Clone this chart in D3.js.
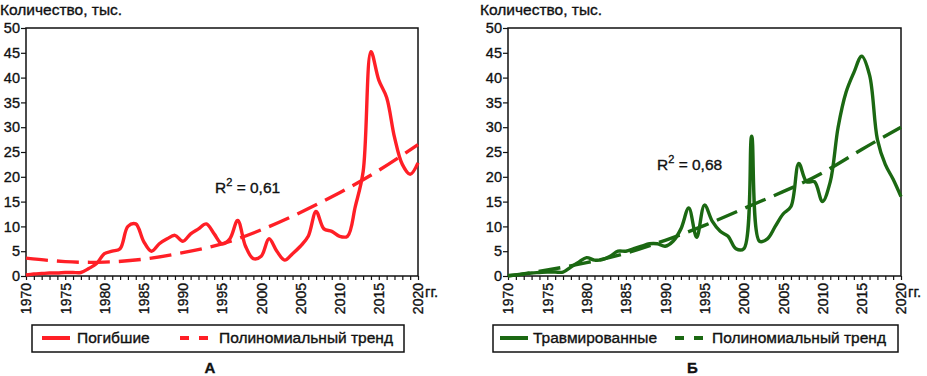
<!DOCTYPE html>
<html>
<head>
<meta charset="utf-8">
<script src="https://cdn.jsdelivr.net/npm/d3@7"></script>
<style>
  body { margin: 0; background: #fff; }
  svg { display: block; font-family: "Liberation Sans", Arial, sans-serif; }
  svg text { stroke: #111; stroke-width: 0.35px; }
</style>
</head>
<body>
<div id="chart"></div>
<script>
// years 1970..2020
const years = d3.range(1970, 2021);

// Погибшие, тыс.
const killed = [
  0.2, 0.4, 0.5, 0.6, 0.6, 0.7, 0.7, 0.7, 1.5, 2.5,
  4.5, 5.0, 5.5, 10.0, 10.5, 7.0, 5.0, 6.5, 7.5, 8.2,
  7.0, 8.5, 9.5, 10.5, 8.5, 6.5, 7.5, 11.2, 6.0, 3.5,
  4.0, 7.5, 5.0, 3.2, 4.5, 6.0, 8.0, 13.0, 9.5, 9.0,
  8.0, 8.0, 14.0, 21.0, 45.2, 39.5, 36.0, 28.0, 22.5, 20.5,
  22.8
];

// Травмированные, тыс.
const injured = [
  0.1, 0.2, 0.4, 0.6, 0.7, 0.8, 0.8, 0.8, 1.8, 2.8,
  3.7, 3.2, 3.3, 4.0, 5.0, 5.0, 5.5, 6.0, 6.5, 6.5,
  6.0, 7.0, 9.5, 13.7, 7.8, 14.3, 11.0, 9.0, 8.0, 5.5,
  5.5, 28.2, 7.0, 7.5, 10.0, 12.5, 14.0, 22.7, 19.0, 19.0,
  15.0, 19.0, 30.0, 37.0, 41.0, 44.3, 40.5, 27.5, 22.5, 19.5,
  16.0
];

// polynomial trend lines, every 5 years
const trendYears = [1970, 1975, 1980, 1985, 1990, 1995, 2000, 2005, 2010, 2015, 2020];
const killedTrend = [3.6, 2.9, 2.8, 3.4, 4.7, 6.5, 9.3, 12.8, 16.8, 21.3, 26.5];
const injuredTrend = [0.0, 1.2, 2.7, 4.6, 7.2, 10.2, 13.6, 17.0, 20.8, 25.5, 30.0];

const yTicks = [0, 5, 10, 15, 20, 25, 30, 35, 40, 45, 50];
const xLabelYears = [1970, 1975, 1980, 1985, 1990, 1995, 2000, 2005, 2010, 2015, 2020];

const yTitle = "Количество, тыс.";
const trendName = "Полиномиальный тренд";

const width = 927, height = 376;

const svg = d3.select("#chart").append("svg")
  .attr("width", width)
  .attr("height", height)
  .attr("viewBox", [0, 0, width, height]);

const panels = [
  {
    x0: 0, left: 26, right: 418,
    values: killed, trend: killedTrend,
    color: "#ff1f26", name: "Погибшие", letter: "А",
    r2: "0,61", r2x: 215, r2y: 193,
    legend: { x: 32, w: 372, sample: 42, text: 77, dash: 180, dtext: 219 }
  },
  {
    x0: 480, left: 508, right: 901,
    values: injured, trend: injuredTrend,
    color: "#1b6812", name: "Травмированные", letter: "Б",
    r2: "0,68", r2x: 657, r2y: 170,
    legend: { x: 493, w: 405, sample: 500, text: 533, dash: 675, dtext: 712 }
  }
];

const plotTop = 28, plotBottom = 276;

panels.forEach(p => {
  const g = svg.append("g");

  const x = d3.scaleLinear().domain([1970, 2020]).range([p.left, p.right]);
  const y = d3.scaleLinear().domain([0, 50]).range([plotBottom, plotTop]);

  // axis title
  g.append("text")
    .attr("x", p.x0)
    .attr("y", 15)
    .attr("font-size", 15.5)
    .attr("fill", "#111")
    .text(yTitle);

  // y axis
  g.append("g")
    .attr("transform", `translate(${p.left},0)`)
    .call(d3.axisLeft(y).tickValues(yTicks).tickSize(5).tickPadding(1))
    .call(a => a.select(".domain").remove())
    .call(a => a.selectAll("line").attr("stroke", "#111").attr("stroke-width", 1.2))
    .call(a => a.selectAll("text").attr("font-size", 14.5).attr("fill", "#111")
      .attr("font-family", "Liberation Sans, Arial, sans-serif"));

  // x axis, a tick for every year, labels every 5
  g.append("g")
    .attr("transform", `translate(0,${plotBottom})`)
    .call(d3.axisBottom(x).tickValues(years).tickSize(4)
      .tickFormat(d => xLabelYears.includes(d) ? d : ""))
    .call(a => a.select(".domain").remove())
    .call(a => a.selectAll("line").attr("stroke", "#111").attr("stroke-width", 1.2))
    .call(a => a.selectAll("text")
      .attr("font-size", 14).attr("fill", "#111")
      .attr("font-family", "Liberation Sans, Arial, sans-serif")
      .attr("transform", "rotate(-90)")
      .attr("text-anchor", "end")
      .attr("x", -7).attr("y", 0).attr("dy", "0.35em"));

  g.append("text")
    .attr("x", p.right + 7)
    .attr("y", 297)
    .attr("font-size", 15)
    .attr("fill", "#111")
    .text("гг.");

  // frame
  g.append("rect")
    .attr("x", p.left).attr("y", plotTop)
    .attr("width", p.right - p.left).attr("height", plotBottom - plotTop)
    .attr("fill", "none").attr("stroke", "#111").attr("stroke-width", 1.5);

  // trend line
  const trendLine = d3.line()
    .x((d, i) => x(trendYears[i]))
    .y(d => y(d))
    .curve(d3.curveNatural);
  g.append("path")
    .datum(p.trend)
    .attr("d", trendLine)
    .attr("fill", "none")
    .attr("stroke", p.color)
    .attr("stroke-width", 3.4)
    .attr("stroke-dasharray", "22,9");

  // data line
  const line = d3.line()
    .x((d, i) => x(years[i]))
    .y(d => y(d))
    .curve(d3.curveCatmullRom.alpha(0.5));
  g.append("path")
    .datum(p.values)
    .attr("d", line)
    .attr("fill", "none")
    .attr("stroke", p.color)
    .attr("stroke-width", 3.4)
    .attr("stroke-linejoin", "round");

  // R² label
  const r = g.append("text")
    .attr("x", p.r2x).attr("y", p.r2y)
    .attr("font-size", 15.5).attr("fill", "#111");
  r.append("tspan").text("R");
  r.append("tspan").attr("dy", -7).attr("font-size", 11).text("2");
  r.append("tspan").attr("dy", 7).text(" = " + p.r2);

  // legend
  const L = p.legend, ly = 338;
  g.append("rect")
    .attr("x", L.x).attr("y", 325)
    .attr("width", L.w).attr("height", 27)
    .attr("fill", "#fff").attr("stroke", "#111").attr("stroke-width", 1.5);
  g.append("line")
    .attr("x1", L.sample).attr("x2", L.sample + 28)
    .attr("y1", ly).attr("y2", ly)
    .attr("stroke", p.color).attr("stroke-width", 4);
  g.append("text")
    .attr("x", L.text).attr("y", ly + 5)
    .attr("font-size", 15.5).attr("fill", "#111")
    .text(p.name);
  g.append("line")
    .attr("x1", L.dash).attr("x2", L.dash + 28)
    .attr("y1", ly).attr("y2", ly)
    .attr("stroke", p.color).attr("stroke-width", 4)
    .attr("stroke-dasharray", "9,10");
  g.append("text")
    .attr("x", L.dtext).attr("y", ly + 5)
    .attr("font-size", 15.5).attr("fill", "#111")
    .text(trendName);

  // panel letter
  g.append("text")
    .attr("x", (p.left + p.right) / 2 - 12)
    .attr("y", 373)
    .attr("font-size", 15).attr("font-weight", "bold").attr("fill", "#111")
    .attr("text-anchor", "middle")
    .text(p.letter);
});
</script>
</body>
</html>
